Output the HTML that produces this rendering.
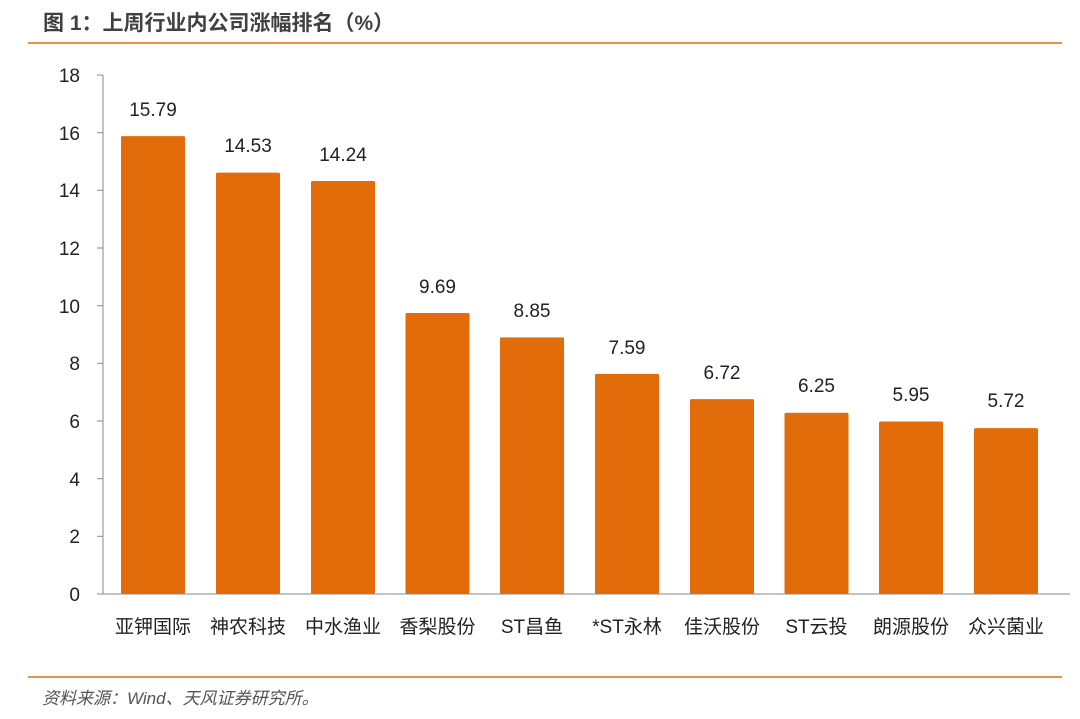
<!DOCTYPE html>
<html><head><meta charset="utf-8"><style>
html,body{margin:0;padding:0;background:#fff;}
body{width:1080px;height:719px;position:relative;overflow:hidden;font-family:"Liberation Sans","Noto Sans CJK SC",sans-serif;}
</style></head><body>
<svg width="1080" height="719" xmlns="http://www.w3.org/2000/svg" style="position:absolute;left:0;top:0">
<text x="43" y="30" font-size="21" font-weight="bold" fill="#404040" font-family="Liberation Sans, Noto Sans CJK SC, sans-serif">图 1：上周行业内公司涨幅排名（%）</text>
<line x1="28" y1="43" x2="1062" y2="43" stroke="#E36C0A" stroke-width="1.5"/>
<g font-size="19" fill="#222" text-anchor="end" font-family="Liberation Sans, sans-serif">
<text x="80" y="601">0</text><text x="80" y="543">2</text><text x="80" y="486">4</text>
<text x="80" y="428">6</text><text x="80" y="370">8</text><text x="80" y="313">10</text>
<text x="80" y="255">12</text><text x="80" y="197">14</text><text x="80" y="140">16</text>
<text x="80" y="82">18</text>
</g>
<g stroke="#888" stroke-width="1">
<line x1="103" y1="75" x2="103" y2="594"/>
<line x1="97" y1="594" x2="1070" y2="594"/>
<line x1="97" y1="536.3" x2="103" y2="536.3"/><line x1="97" y1="478.7" x2="103" y2="478.7"/>
<line x1="97" y1="421" x2="103" y2="421"/><line x1="97" y1="363.3" x2="103" y2="363.3"/>
<line x1="97" y1="305.7" x2="103" y2="305.7"/><line x1="97" y1="248" x2="103" y2="248"/>
<line x1="97" y1="190.3" x2="103" y2="190.3"/><line x1="97" y1="132.7" x2="103" y2="132.7"/>
<line x1="97" y1="75" x2="103" y2="75"/>
</g>
<g fill="#E36C0A">
<rect x="121" y="136.1" width="64" height="457.9" rx="1.5"/>
<rect x="216" y="172.6" width="64" height="421.4" rx="1.5"/>
<rect x="311" y="181.0" width="64" height="413.0" rx="1.5"/>
<rect x="405.5" y="313.0" width="64" height="281.0" rx="1.5"/>
<rect x="500" y="337.4" width="64" height="256.6" rx="1.5"/>
<rect x="595" y="373.9" width="64" height="220.1" rx="1.5"/>
<rect x="690" y="399.1" width="64" height="194.9" rx="1.5"/>
<rect x="784.5" y="412.8" width="64" height="181.2" rx="1.5"/>
<rect x="879" y="421.5" width="64" height="172.5" rx="1.5"/>
<rect x="974" y="428.1" width="64" height="165.9" rx="1.5"/>
</g>
<g font-size="19" fill="#222" text-anchor="middle" font-family="Liberation Sans, sans-serif">
<text x="153" y="116">15.79</text><text x="248" y="152">14.53</text><text x="343" y="161">14.24</text>
<text x="437.5" y="293">9.69</text><text x="532" y="317">8.85</text><text x="627" y="354">7.59</text>
<text x="722" y="379">6.72</text><text x="816.5" y="392">6.25</text><text x="911" y="401">5.95</text>
<text x="1006" y="407">5.72</text>
</g>
<g font-size="19" fill="#222" text-anchor="middle" font-family="Liberation Sans, Noto Sans CJK SC, sans-serif">
<text x="153" y="633">亚钾国际</text><text x="248" y="633">神农科技</text><text x="343" y="633">中水渔业</text>
<text x="437.5" y="633">香梨股份</text><text x="532" y="633">ST昌鱼</text><text x="627" y="633">*ST永林</text>
<text x="722" y="633">佳沃股份</text><text x="816.5" y="633">ST云投</text><text x="911" y="633">朗源股份</text>
<text x="1006" y="633">众兴菌业</text>
</g>
<line x1="28" y1="677" x2="1062" y2="677" stroke="#E36C0A" stroke-width="1.5"/>
<text x="42" y="704" font-size="17" font-style="italic" fill="#555" font-family="Liberation Sans, Noto Sans CJK SC, sans-serif">资料来源：Wind、天风证券研究所。</text>
</svg>
</body></html>
